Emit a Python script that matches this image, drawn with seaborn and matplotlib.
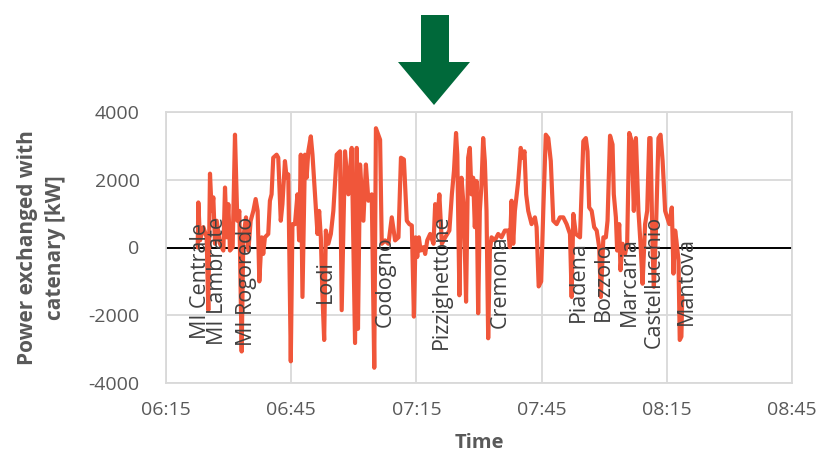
import numpy as np
import pandas as pd
import matplotlib
matplotlib.use("Agg")
import matplotlib.pyplot as plt
import matplotlib.dates as mdates
from matplotlib.patches import Polygon
import seaborn as sns

# Power exchanged with the catenary, minutes after 06:15 and kW
minutes = [
    7.6, 7.75, 8.15, 8.95, 9.74, 10.14, 10.54, 10.94, 11.34, 11.74, 12.14, 12.94,
    13.74, 14.14, 14.54, 14.94, 15.33, 15.97, 16.53, 17.09, 17.57, 18.13, 18.53,
    19.17, 19.73, 20.29, 20.93, 21.48, 21.96, 22.36, 22.92,
    23.3, 23.7, 24.5, 24.9, 25.3, 25.7, 26.5, 26.9, 27.5, 27.9, 28.5, 28.9, 29.3,
    29.9, 30.3, 30.9, 31.5, 31.9, 32.3, 32.7, 33.3, 33.7, 34.1, 34.7, 35.1, 35.7,
    36.3, 36.7, 37.1, 37.5, 37.9, 38.3, 38.9, 39.5,
    40.1, 40.9, 41.7, 42.1, 42.9, 43.7, 44.5, 45.3, 45.7, 46.0, 46.5, 47.3, 47.9,
    48.5, 49.3, 49.9, 50.3, 51.3, 51.7, 52.5, 53.3, 54.1, 54.9, 55.7,
    56.3, 57.0, 57.7, 58.3, 58.9, 59.4, 59.8, 60.2, 60.6, 61.0, 61.7, 62.1, 62.6,
    63.3, 64.1, 64.5, 65.0, 65.5, 66.1, 66.9, 67.9, 68.5, 69.0, 69.5, 69.8, 70.3,
    70.8, 71.4, 71.9, 72.4, 72.8,
    73.2, 73.6, 74.0, 74.4, 74.8, 75.2, 75.6, 76.0, 76.4, 76.8, 77.2, 77.6, 78.0,
    78.8, 79.6, 80.4, 81.2, 82.0, 82.4, 82.8, 83.2, 83.6, 84.4, 85.0, 85.5, 85.9,
    86.3, 86.8, 87.6, 88.4, 88.8, 89.3, 89.9, 90.4, 91.0,
    91.6, 92.2, 92.8, 93.6, 94.4, 95.2, 96.0, 96.8, 97.2, 97.6, 98.2, 99.2, 100.0,
    100.6, 101.0, 101.4, 102.0, 102.6, 103.2, 103.8, 104.2, 104.8, 105.4, 105.8,
    106.4,
    107.0, 107.3, 107.8, 108.1, 108.6, 108.9, 109.4, 110.0, 110.5, 111.0, 111.6,
    112.1, 112.6, 113.2, 113.7, 114.2, 114.8, 115.3, 115.8, 116.1, 116.6, 116.9,
    117.4, 118.0, 118.5, 119.0, 119.6, 120.1, 120.6, 121.2, 121.6, 122.0, 122.3,
    122.8, 123.1, 123.5, 123.7,
]
power_kw = [
    0, 1330, 210, 600, 300, -1850, 2180, 1080, 1480, 110, 790, 110,
    -90, 1770, 300, 1280, -90, 10, 3330, 790, 1080, -3070, 300,
    890, -90, 790, 1080, 1430, 1080, -1000, 300,
    -190, 300, 400, 1380, 1570, 2650, 2740, 2650, 790, 1280, 2550, 2060, 2160,
    -3360, 690, 690, 1570, 210, 2740, -1460, 2740, 2060, 2840, 3280, 2740, 1570,
    400, 1080, 300, -1460, -2730, 500, 110, 400,
    1080, 2740, 2840, -1850, 2840, 1570, 2940, -2820, 2940, -2400, 2450, 790, 2450,
    1380, 1570, -3550, 3520, 3180, 110, 210, 110, 890, 210, 300,
    2650, 2600, 790, 690, 650, -2040, 300, -280, 300, -90, 10, -190, 210,
    400, 110, 1280, 790, 1570, 110, 300, 500, 1570, 2260, 3380, 2740, -1410,
    2060, 1080, -1600, 2650, 2940,
    1570, 2060, 600, 1960, -1940, 1080, 1870, 3230, 2550, 1080, -2680, -90, 300,
    210, 400, 300, 500, 500, 10, 1380, 110, 1080, 1960, 2940, 2650, 2840,
    1570, 1080, 690, 890, 600, -1150, -1000, 1080, 3330,
    3230, 2550, 790, 690, 890, 890, 690, 400, -1460, 990, 400, 300, 3140,
    3230, 2840, 1180, 1080, 600, 500, 10, -1460, 300, 300, 790,
    3300,
    3040, 1570, 890, -90, 690, -670, 110, -190, 110, 3380, 3140,
    1080, 3230, 1080, 110, -1070, 690, 1080, 3230, 3230, -90, -1160,
    500, 3230, 3330, 2550, 1080, 890, 690, 1180, -770, 500, 210,
    -380, -2730, -2630, -1460,
]

stations = ["MI Centrale", "MI Lambrate", "MI Rogoredo", "Lodi", "Codogno",
            "Pizzighettone", "Cremona", "Piadena", "Bozzolo", "Marcaria",
            "Castellucchio", "Mantova"]
station_minutes = [8.3, 12.3, 19.3, 38.1, 52.5, 66.1, 80.0, 98.8, 104.9, 111.1,
                   116.9, 124.8]
station_label_kw = -1000

tick_minutes = [0, 30, 60, 90, 120, 150]
y_ticks = [-4000, -2000, 0, 2000, 4000]

sns.set_theme(style="white")
plt.rcParams['font.family'] = ['Open Sans', 'DejaVu Sans']
plt.rcParams['axes.unicode_minus'] = False

start = pd.Timestamp("2020-01-01 06:15")
df = pd.DataFrame({
    "time": start + pd.to_timedelta(minutes, unit="min"),
    "power": power_kw,
})

W, H = 824, 470
fig = plt.figure(figsize=(W / 100, H / 100), dpi=100)
ax = fig.add_axes([166 / W, 1 - 383 / H, (792 - 166) / W, (383 - 112) / H])

sns.lineplot(data=df, x="time", y="power", ax=ax, color="#F0563A",
             linewidth=3.0, estimator=None, sort=False, zorder=3)

ax.axhline(0, color="black", linewidth=1.4, zorder=2)

tick_times = [start + pd.Timedelta(minutes=m) for m in tick_minutes]
ax.set_xlim(tick_times[0], tick_times[-1])
ax.set_xticks(tick_times)
ax.xaxis.set_major_formatter(mdates.DateFormatter("%H:%M"))
ax.set_ylim(-4000, 4000)
ax.set_yticks(y_ticks)

ax.grid(True, color="#D9D9D9", linewidth=1.3, zorder=0)
for s in ax.spines.values():
    s.set_color("#D9D9D9")
    s.set_linewidth(1.3)

ax.tick_params(axis="both", length=0, labelsize=14, labelcolor="#595959")
ax.tick_params(axis="y", pad=19)
ax.tick_params(axis="x", pad=13)

ax.set_xlabel("Time", fontsize=14.5, fontweight="bold", color="#595959", labelpad=10)
ax.set_ylabel("Power exchanged with\ncatenary [kW]", fontsize=15,
              fontweight="bold", color="#595959", linespacing=1.4)
ax.yaxis.set_label_coords(-0.16, 0.5)

for name, m in zip(stations, station_minutes):
    ax.text(start + pd.Timedelta(minutes=m), station_label_kw, name,
            rotation=90, ha="center", va="center", fontsize=15.5,
            color="#404040", zorder=4)

# green arrow above the plot
arrow_px = [(421, 15), (449, 15), (449, 62), (470, 62), (434, 105),
            (398, 62), (421, 62)]
arrow = Polygon([(x / W, 1 - y / H) for x, y in arrow_px], closed=True,
                transform=fig.transFigure, facecolor="#00693A",
                edgecolor="none")
fig.patches.append(arrow)

fig.savefig("out.png", dpi=100)
